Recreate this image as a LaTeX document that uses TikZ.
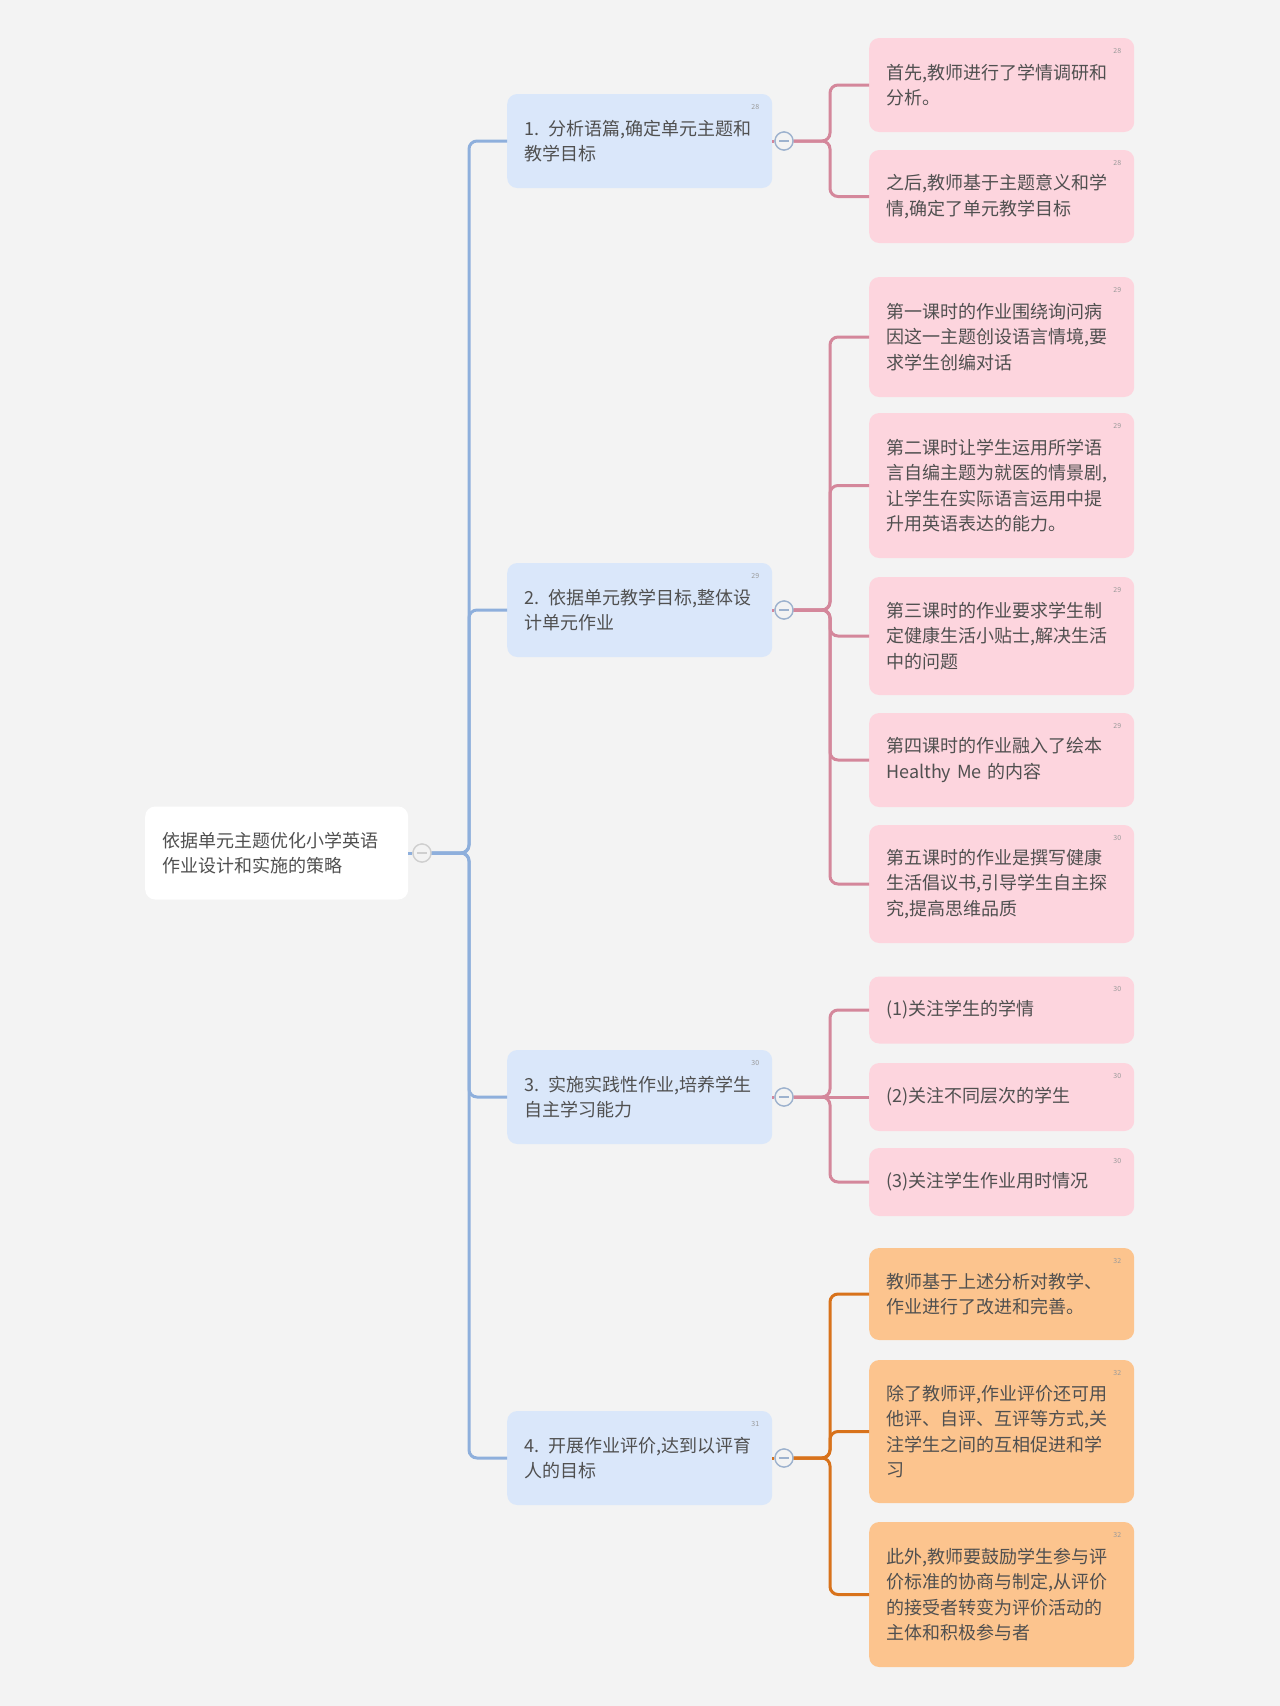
\documentclass[tikz,border=0pt]{standalone}
\usepackage{fontspec}
\setmainfont{Noto Sans CJK SC}
\definecolor{bg}{HTML}{F3F3F3}
\definecolor{bluefill}{HTML}{DAE7FA}
\definecolor{bluelinec}{HTML}{8EAFDC}
\definecolor{pinkfill}{HTML}{FDD5DE}
\definecolor{pinklinec}{HTML}{D4879B}
\definecolor{orfill}{HTML}{FCC48E}
\definecolor{orlinec}{HTML}{D8721B}
\definecolor{txt}{HTML}{505050}
\definecolor{numc}{HTML}{9A9A9A}
\definecolor{togc}{HTML}{9DB2CE}
\definecolor{togroot}{HTML}{CFCFCF}
\begin{document}
\begin{tikzpicture}[x=1pt,y=-1pt,
  box/.style={rectangle, rounded corners=10pt, anchor=west, text width=231pt,
    inner xsep=17pt, inner ysep=0pt, align=left,
    font=\fontsize{18}{25.5}\selectfont, text=txt},
  rootbox/.style={box, fill=white, text width=229pt, minimum height=93pt},
  lvone/.style={box, fill=bluefill, minimum height=94pt},
  pinkbox/.style={box, fill=pinkfill},
  orbox/.style={box, fill=orfill},
  num/.style={anchor=north east, font=\fontsize{7}{8}\selectfont, text=numc, inner sep=0pt},
  tog/.style={circle, minimum size=18pt, inner sep=0pt, draw=#1, line width=1.3pt, fill=bg,
    path picture={\draw[#1, line width=1.3pt] ([xshift=4pt]path picture bounding box.west) -- ([xshift=-4pt]path picture bounding box.east);}},
  bl/.style={draw=bluelinec, line width=3pt, rounded corners=8pt},
  pk/.style={draw=pinklinec, line width=3pt, rounded corners=8pt},
  og/.style={draw=orlinec, line width=3pt, rounded corners=8pt}
]
\useasboundingbox[fill=bg] (0,0) rectangle (1280,1706);

% root
\node[rootbox] (root) at (145,853) {依据单元主题优化小学英语\\作业设计和实施的策略};
\node[tog=togroot] (t0) at (422,853) {};

% level one
\node[lvone] (n1) at (507,141) {1. 分析语篇,确定单元主题和\\教学目标};
\node[lvone] (n2) at (507,610) {2. 依据单元教学目标,整体设\\计单元作业};
\node[lvone] (n3) at (507,1097) {3. 实施实践性作业,培养学生\\自主学习能力};
\node[lvone] (n4) at (507,1458) {4. 开展作业评价,达到以评育\\人的目标};
\node[num] (n1n) at ([shift={(-13,10)}]n1.north east) {28};
\node[num] (n2n) at ([shift={(-13,10)}]n2.north east) {29};
\node[num] (n3n) at ([shift={(-13,10)}]n3.north east) {30};
\node[num] (n4n) at ([shift={(-13,10)}]n4.north east) {31};
\node[tog=togc] (c1) at (784,141) {};
\node[tog=togc] (c2) at (784,610) {};
\node[tog=togc] (c3) at (784,1097) {};
\node[tog=togc] (c4) at (784,1458) {};

% level two
\node[pinkbox, minimum height=94pt] (a1) at (869,85) {首先,教师进行了学情调研和\\分析。};
\node[pinkbox, minimum height=93pt] (a2) at (869,196.5) {之后,教师基于主题意义和学\\情,确定了单元教学目标};
\node[pinkbox, minimum height=120pt] (b1) at (869,337) {第一课时的作业围绕询问病\\因这一主题创设语言情境,要\\求学生创编对话};
\node[pinkbox, minimum height=145pt] (b2) at (869,485.5) {第二课时让学生运用所学语\\言自编主题为就医的情景剧,\\让学生在实际语言运用中提\\升用英语表达的能力。};
\node[pinkbox, minimum height=118pt] (b3) at (869,636) {第三课时的作业要求学生制\\定健康生活小贴士,解决生活\\中的问题};
\node[pinkbox, minimum height=94pt] (b4) at (869,760) {第四课时的作业融入了绘本\\Healthy Me 的内容};
\node[pinkbox, minimum height=118pt] (b5) at (869,884) {第五课时的作业是撰写健康\\生活倡议书,引导学生自主探\\究,提高思维品质};
\node[pinkbox, minimum height=67pt] (e1) at (869,1010) {(1)关注学生的学情};
\node[pinkbox, minimum height=68pt] (e2) at (869,1097) {(2)关注不同层次的学生};
\node[pinkbox, minimum height=68pt] (e3) at (869,1182) {(3)关注学生作业用时情况};
\node[orbox, minimum height=92pt] (d1) at (869,1294) {教师基于上述分析对教学、\\作业进行了改进和完善。};
\node[orbox, minimum height=143pt] (d2) at (869,1431.5) {除了教师评,作业评价还可用\\他评、自评、互评等方式,关\\注学生之间的互相促进和学\\习};
\node[orbox, minimum height=145pt] (d3) at (869,1594.5) {此外,教师要鼓励学生参与评\\价标准的协商与制定,从评价\\的接受者转变为评价活动的\\主体和积极参与者};

\foreach \b/\t in {a1/28,a2/28,b1/29,b2/29,b3/29,b4/29,b5/30,e1/30,e2/30,e3/30,d1/32,d2/32,d3/32}
  \node[num] (\b n) at ([shift={(-13,10)}]\b.north east) {\t};

% junction points
\coordinate (j0) at (469,853);
\coordinate (j1) at (830,141);
\coordinate (j2) at (830,610);
\coordinate (j3) at (830,1097);
\coordinate (j4) at (830,1458);

% connectors
\draw[bl] (root.east) -- (t0.west);
\foreach \n in {n1,n2,n3,n4} \draw[bl] (t0.east) -- (j0) |- (\n.west);

\draw[pk] (n1.east) -- (c1.west);
\foreach \n in {a1,a2} \draw[pk] (c1.east) -- (j1) |- (\n.west);

\draw[pk] (n2.east) -- (c2.west);
\foreach \n in {b1,b2,b3,b4,b5} \draw[pk] (c2.east) -- (j2) |- (\n.west);

\draw[pk] (n3.east) -- (c3.west);
\foreach \n in {e1,e3} \draw[pk] (c3.east) -- (j3) |- (\n.west);
\draw[pk] (c3.east) -- (e2.west);

\draw[og] (n4.east) -- (c4.west);
\foreach \n in {d1,d2,d3} \draw[og] (c4.east) -- (j4) |- (\n.west);

% redraw toggles on top
\node[tog=togroot] at (t0) {};
\foreach \c in {c1,c2,c3,c4} \node[tog=togc] at (\c) {};
\end{tikzpicture}
\end{document}
